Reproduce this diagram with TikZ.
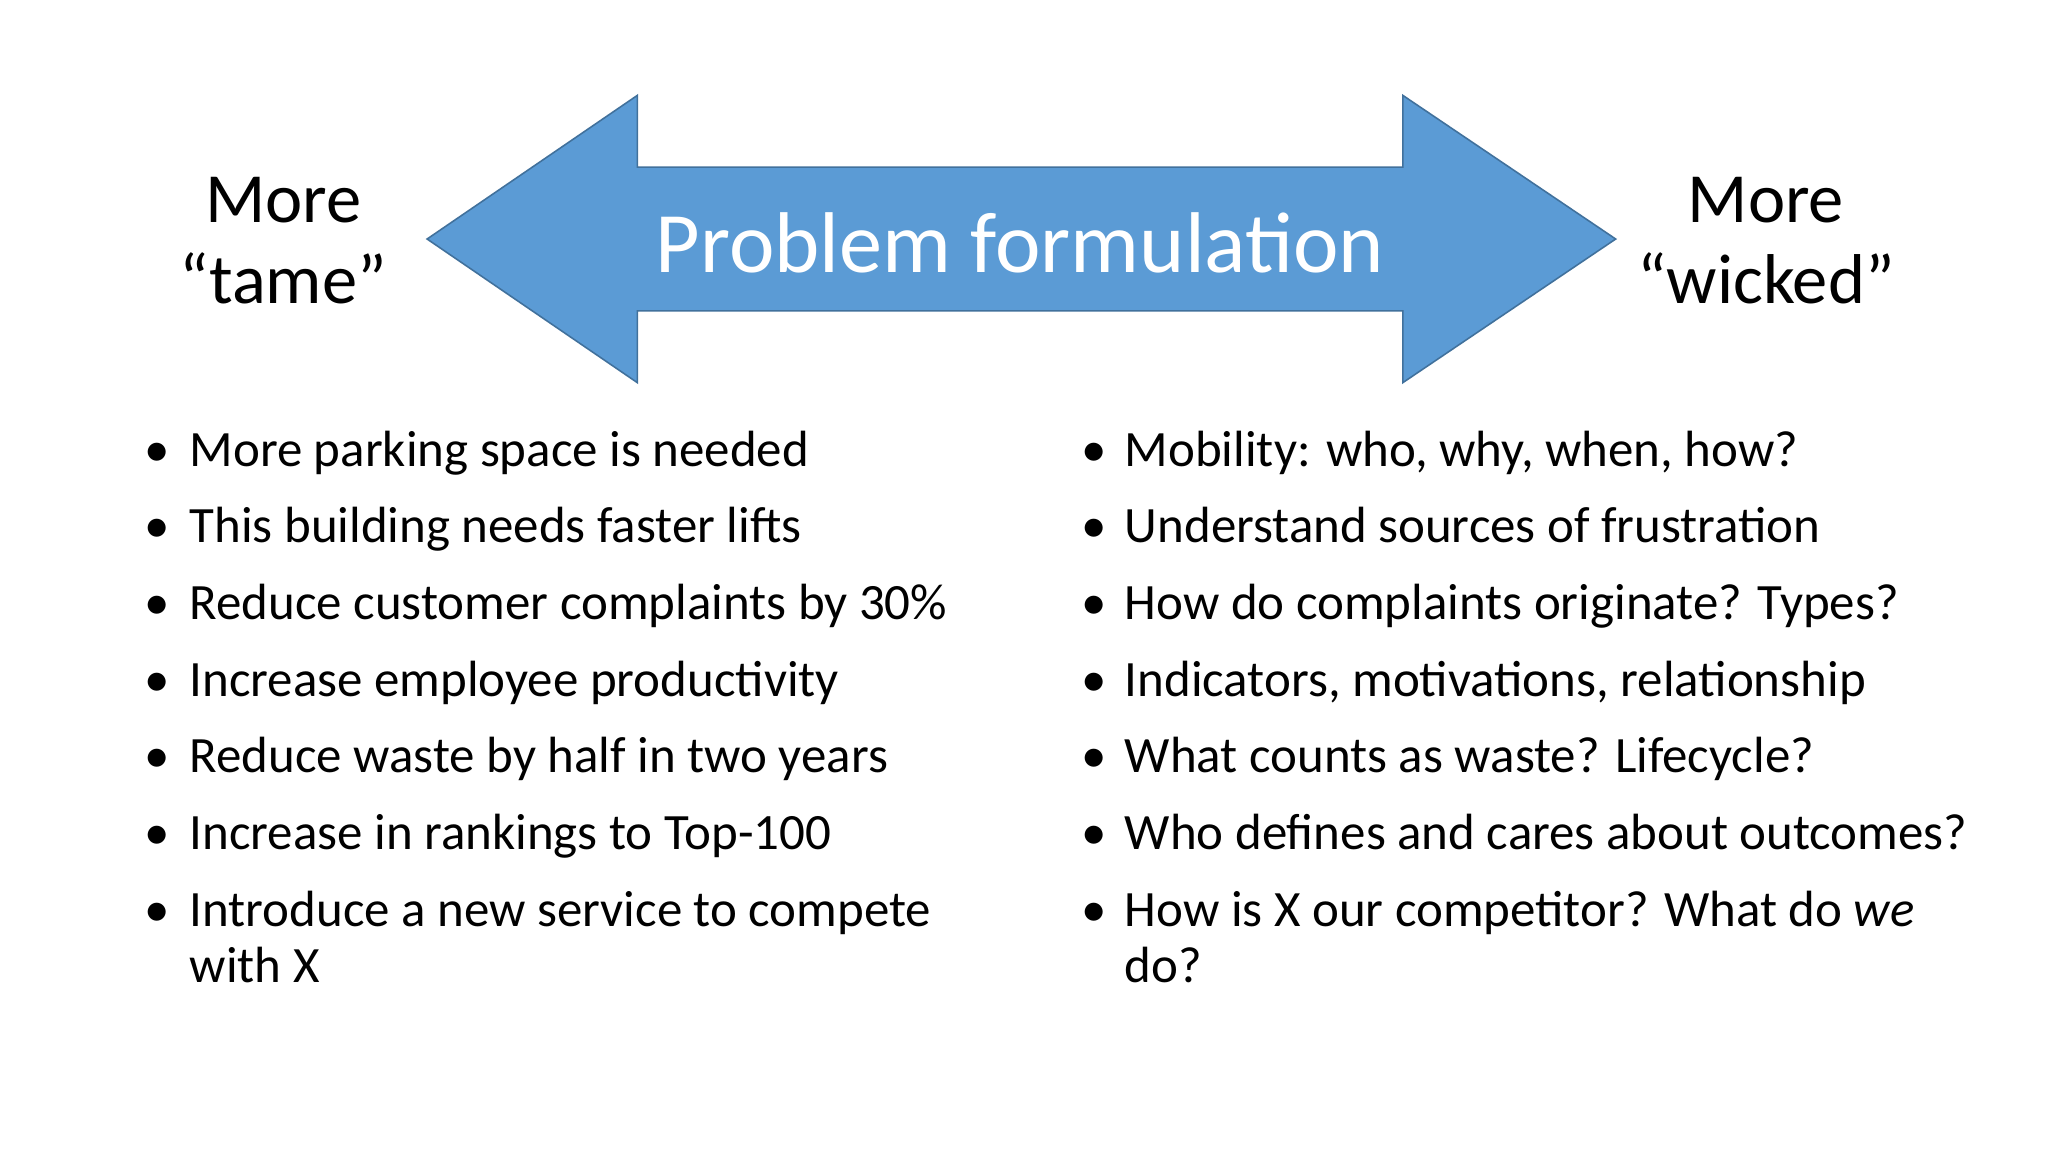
\documentclass[tikz,border=0pt]{standalone}
\usepackage{fontspec}
\setmainfont{Carlito}
\begin{document}
\begin{tikzpicture}[x=1pt,y=-1pt,
  lbl/.style={font=\fontsize{54}{62}\selectfont, align=center, text=black},
  item/.style={anchor=base west, font=\fontsize{39}{43}\selectfont, align=left, inner sep=0pt},
  dot/.style={anchor=base, font=\fontsize{39}{43}\selectfont, inner sep=0pt}]
\useasboundingbox[fill=white] (0,0) rectangle (1568,882);
\draw[fill={rgb,255:red,91;green,155;blue,213}, draw={rgb,255:red,65;green,113;blue,156}, line width=1.2pt]
  (327,183) -- (488,73) -- (488,128) -- (1074,128) -- (1074,73) -- (1237,183)
  -- (1074,293) -- (1074,238) -- (488,238) -- (488,293) -- cycle;
\node[text=white, font=\fontsize{66}{70}\selectfont] (pf) at (781,186) {Problem formulation};
\node[lbl] (tame) at (217,184) {More\\“tame”};
\node[lbl] (wicked) at (1352,184) {More\\“wicked”};
\foreach \t [count=\i] in {More parking space is needed, This building needs faster lifts, Reduce customer complaints by 30\%, Increase employee productivity, Reduce waste by half in two years, Increase in rankings to Top-100}{
  \node[dot] at (120,{357+58.7*(\i-1)}) {•};
  \node[item] at (145,{357+58.7*(\i-1)}) {\t};
}
\node[dot] at (120,709) {•};
\node[item] (l7) at (145,709) {Introduce a new service to compete};
\node[item] (l8) at (145,752) {with X};
\foreach \t [count=\i] in {{Mobility: who, why, when, how?}, Understand sources of frustration, How do complaints originate? Types?, {Indicators, motivations, relationship}, What counts as waste? Lifecycle?, Who defines and cares about outcomes?}{
  \node[dot] at (838,{357+58.7*(\i-1)}) {•};
  \node[item] at (861,{357+58.7*(\i-1)}) {\t};
}
\node[dot] at (838,709) {•};
\node[item] (r7) at (861,709) {How is X our competitor? What do \textit{we}};
\node[item] (r8) at (861,752) {do?};
\end{tikzpicture}
\end{document}
